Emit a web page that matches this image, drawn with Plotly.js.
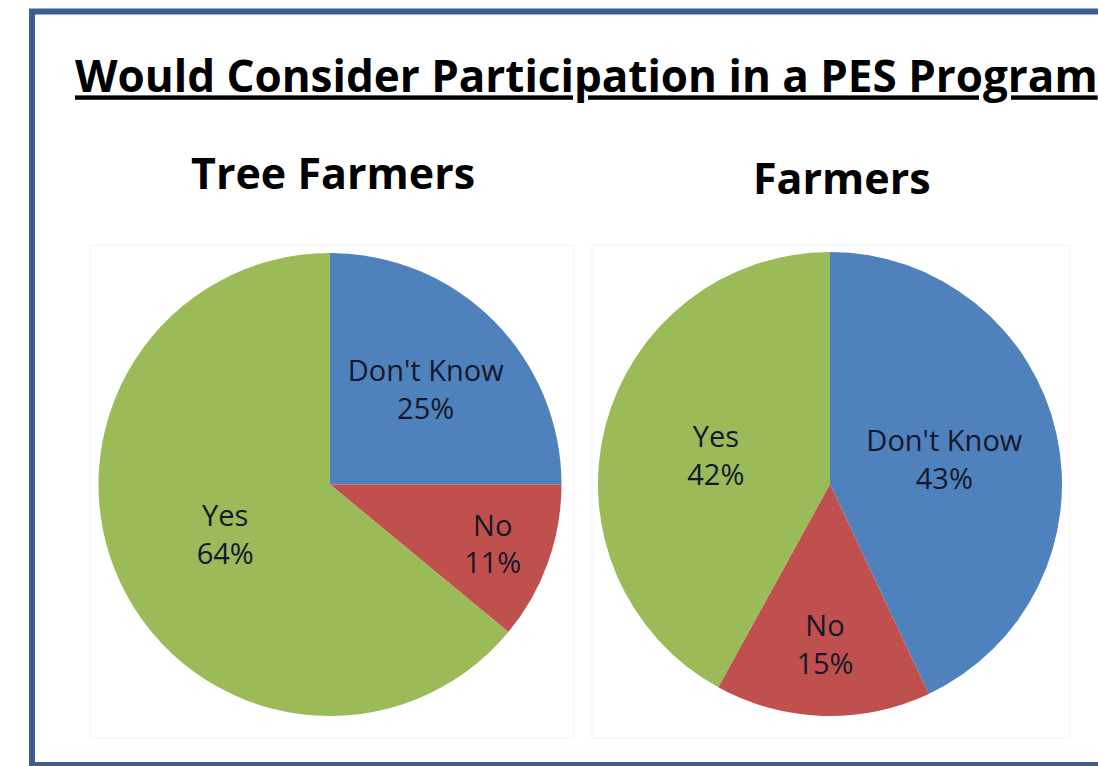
<!DOCTYPE html>
<html>
<head>
<meta charset="utf-8">
<script src="https://cdn.plot.ly/plotly-3.0.1.min.js"></script>
<style>html,body{margin:0;padding:0;background:#fff;}#chart{width:1098px;height:766px;}</style>
</head>
<body>
<div id="chart"></div>
<script>
const chartTitle = "Would Consider Participation in a PES Program";
const groupNames = ["Tree Farmers", "Farmers"];
const categories = ["Don't Know", "No", "Yes"];
const treeFarmerPct = [25, 11, 64];
const farmerPct = [43, 15, 42];
const sliceColors = ["#4F81BD", "#C0504D", "#9BBB59"];

const W = 1098, H = 766;
const px = v => v / W;
const py = v => 1 - v / H;

const FONT = "'Open Sans', Lato, sans-serif";
const labelFont = {family: FONT, size: 29, color: "#14182a"};

function pieTrace(values, x0, x1, y0, y1) {
  return {
    type: "pie",
    labels: categories,
    values: values,
    sort: false,
    direction: "clockwise",
    rotation: 0,
    marker: {colors: sliceColors, line: {width: 0}},
    texttemplate: "%{label}<br>%{value}%",
    textposition: "inside",
    insidetextorientation: "horizontal",
    insidetextfont: labelFont,
    hoverinfo: "label+value",
    showlegend: false,
    domain: {x: [px(x0), px(x1)], y: [py(y1), py(y0)]}
  };
}

const data = [
  pieTrace(treeFarmerPct, 98, 562, 253, 716),
  pieTrace(farmerPct, 597, 1063, 252, 716)
];

const layout = {
  width: W, height: H,
  margin: {l: 0, r: 0, t: 0, b: 0},
  paper_bgcolor: "#ffffff",
  title: {
    text: chartTitle,
    x: px(75), xanchor: "left", xref: "container",
    y: py(77), yanchor: "middle", yref: "container",
    font: {family: FONT, size: 44, weight: 700, color: "#000", lineposition: "under"}
  },
  annotations: [
    {text: groupNames[0], xref: "paper", yref: "paper", x: px(333), y: py(172), xanchor: "center", yanchor: "middle", showarrow: false,
     font: {family: FONT, size: 43, weight: 700, color: "#000"}},
    {text: groupNames[1], xref: "paper", yref: "paper", x: px(842), y: py(178), xanchor: "center", yanchor: "middle", showarrow: false,
     font: {family: FONT, size: 43, weight: 700, color: "#000"}}
  ],
  shapes: [
    {type: "rect", xref: "paper", yref: "paper", x0: px(90), x1: px(574), y0: py(738), y1: py(245), line: {color: "#f2f2f2", width: 1}, layer: "below"},
    {type: "rect", xref: "paper", yref: "paper", x0: px(592), x1: px(1070), y0: py(738), y1: py(245), line: {color: "#f2f2f2", width: 1}, layer: "below"},
    {type: "rect", xref: "paper", yref: "paper", x0: px(32), x1: px(1110), y0: py(765), y1: py(11.5), line: {color: "#3D5F8E", width: 6}, layer: "above"}
  ]
};

Plotly.newPlot("chart", data, layout, {displayModeBar: false, staticPlot: true});
</script>
</body>
</html>
